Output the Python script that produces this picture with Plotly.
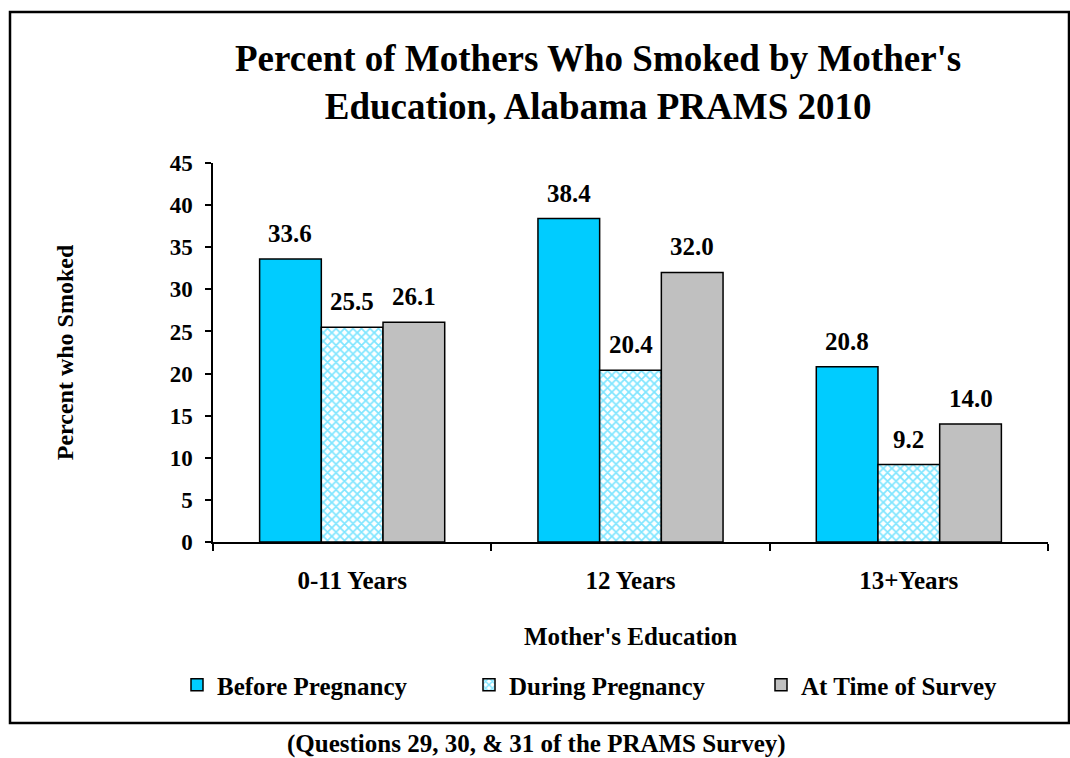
import plotly.graph_objects as go

categories = ["0-11 Years", "12 Years", "13+Years"]
series_names = ["Before Pregnancy", "During Pregnancy", "At Time of Survey"]
before = [33.6, 38.4, 20.8]
during = [25.5, 20.4, 9.2]
survey = [26.1, 32.0, 14.0]
y_ticks = [0, 5, 10, 15, 20, 25, 30, 35, 40, 45]

FONT = "Liberation Serif, Times New Roman, serif"
W, H = 1070, 758
L, R, T, B = 213, 22, 163, 216
pw, ph = W - L - R, H - T - B

def px_x(x):
    return (x - L) / pw

def px_y(y):
    return (H - B - y) / ph

bargap = 0.335
fig = go.Figure()
styles = [
    dict(color="#00CCFF"),
    dict(color="white", pattern=dict(shape="x", fgcolor="#00CCFF", bgcolor="white", size=6, solidity=0.5)),
    dict(color="#C0C0C0"),
]
all_vals = [before, during, survey]
for name, vals, st in zip(series_names, all_vals, styles):
    fig.add_trace(go.Bar(
        x=categories, y=vals, name=f"<b>{name}</b>",
        marker=dict(line=dict(color="black", width=1.5), **st),
    ))

# value labels above bars
bw = (1 - bargap) / 3
for j, vals in enumerate(all_vals):
    for i, v in enumerate(vals):
        fig.add_annotation(
            x=i + (j - 1) * bw, y=v, xref="x", yref="y",
            text=f"<b>{v:.1f}</b>", showarrow=False,
            yanchor="bottom", yshift=10,
            font=dict(family=FONT, size=25, color="black"),
        )

fig.update_layout(
    width=W, height=H,
    margin=dict(l=L, r=R, t=T, b=B),
    paper_bgcolor="white", plot_bgcolor="white",
    barmode="group", bargap=bargap, bargroupgap=0,
    font=dict(family=FONT, color="black"),
    title=dict(
        text="<b>Percent of Mothers Who Smoked by Mother's<br>Education, Alabama PRAMS 2010</b>",
        x=0.559, xanchor="center", y=1 - 71 / H, yanchor="middle",
        font=dict(family=FONT, size=37, color="black"),
    ),
    xaxis=dict(
        type="category", tickson="boundaries",
        tickvals=categories, ticktext=[f"<b>{c}</b>" for c in categories],
        ticks="outside", ticklen=7, tickcolor="black", tickwidth=1.5,
        showline=True, linecolor="black", linewidth=1.5,
        showgrid=False,
        tickfont=dict(family=FONT, size=25, color="black"),
        ticklabelstandoff=15,
        title=dict(text="<b>Mother's Education</b>", font=dict(family=FONT, size=25, color="black"), standoff=35),
        range=[-0.5, 2.5],
    ),
    yaxis=dict(
        range=[0, 45], tickvals=y_ticks, ticktext=[f"<b>{t}</b>" for t in y_ticks],
        ticks="outside", ticklen=6, tickcolor="black", tickwidth=1.5,
        showline=True, linecolor="black", linewidth=1.5,
        showgrid=False, zeroline=False,
        tickfont=dict(family=FONT, size=23, color="black"),
        ticklabelstandoff=8,
        title=dict(text="<b>Percent who Smoked</b>", font=dict(family=FONT, size=24, color="black"), standoff=89),
    ),
    legend=dict(
        orientation="h", x=px_x(177), xanchor="left", y=px_y(685), yanchor="middle",
        font=dict(family=FONT, size=25, color="black"),
        entrywidth=247, entrywidthmode="pixels",
        itemwidth=30, bgcolor="rgba(0,0,0,0)", traceorder="normal",
    ),
    showlegend=True,
)

# outer border
fig.add_shape(type="rect", xref="paper", yref="paper",
              x0=px_x(10), x1=px_x(1069), y0=px_y(723), y1=px_y(12),
              line=dict(color="black", width=2.5), fillcolor="rgba(0,0,0,0)", layer="below")

fig.add_annotation(
    text="<b>(Questions 29, 30, &amp; 31 of the PRAMS Survey)</b>",
    xref="paper", yref="paper", x=px_x(536), y=px_y(744),
    xanchor="center", yanchor="middle", showarrow=False,
    font=dict(family=FONT, size=25, color="black"),
)

fig.write_html("out.html", config={"displayModeBar": False},
               post_script="document.body.style.margin='0';")
